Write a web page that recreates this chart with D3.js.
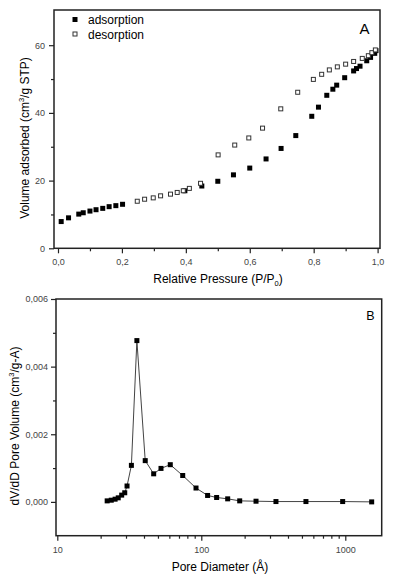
<!DOCTYPE html>
<html>
<head>
<meta charset="utf-8">
<script src="https://cdn.jsdelivr.net/npm/d3@7"></script>
<style>
  body { margin: 0; background: #fff; }
  svg { display: block; font-family: Arial, "Liberation Sans", sans-serif; }
</style>
</head>
<body>
<script>
// panel A: nitrogen isotherm
const adsP = [0.010, 0.033, 0.065, 0.079, 0.100, 0.119, 0.140, 0.160, 0.181, 0.202,
  0.397, 0.450, 0.500, 0.549, 0.600, 0.651, 0.698, 0.744, 0.794, 0.815, 0.841, 0.860,
  0.872, 0.897, 0.925, 0.934, 0.945, 0.966, 0.978, 0.991, 0.995];
const adsV = [7.9, 9.0, 10.1, 10.5, 11.0, 11.4, 11.8, 12.3, 12.6, 13.0,
  17.0, 18.4, 19.8, 21.7, 23.7, 26.4, 29.5, 33.3, 39.0, 41.7, 45.2, 47.0,
  48.2, 50.4, 52.4, 53.1, 53.8, 55.4, 56.4, 57.6, 58.4];
const desP = [0.248, 0.271, 0.298, 0.321, 0.352, 0.373, 0.392, 0.411, 0.446, 0.501,
  0.553, 0.597, 0.640, 0.697, 0.750, 0.799, 0.825, 0.849, 0.874, 0.900, 0.925,
  0.952, 0.971, 0.982, 0.993];
const desV = [13.9, 14.5, 14.9, 15.5, 16.0, 16.5, 17.0, 17.7, 19.2, 27.6,
  30.5, 32.6, 35.5, 41.2, 46.1, 49.9, 51.4, 52.7, 53.6, 54.4, 55.2,
  56.1, 56.9, 57.8, 58.6];
const xTicksA = [0, 0.2, 0.4, 0.6, 0.8, 1.0];
const yTicksA = [0, 20, 40, 60];

// panel B: pore size distribution
const poreD = [22.2, 23.7, 25.2, 26.5, 28.0, 29.4, 30.5, 32.7, 35.7, 40.8, 46.7, 52.5,
  60.9, 74.3, 91.9, 110.6, 127.8, 152.5, 184.8, 239.9, 330, 533, 959, 1525];
const poreV = [0.00003, 0.00005, 0.00008, 0.00012, 0.0002, 0.00027, 0.00047, 0.00108,
  0.00477, 0.00122, 0.00083, 0.00099, 0.0011, 0.00078, 0.00041, 0.00019, 0.00013,
  0.00009, 0.00003, 0.00002, 0.00001, 0.00001, 0.00001, 0.0];
const xTicksB = [10, 100, 1000];
const yTicksB = [0, 0.002, 0.004, 0.006];

const W = 395, H = 575;
const comma = (f) => (d) => d3.format(f)(d).replace(".", ",");

const svg = d3.select("body").append("svg").attr("width", W).attr("height", H);

function frame(g, x0, x1, y0, y1) {
  g.append("rect")
    .attr("x", x0).attr("y", y0)
    .attr("width", x1 - x0).attr("height", y1 - y0)
    .attr("fill", "none").attr("stroke", "#222").attr("stroke-width", 1.5);
}

function styleAxis(sel, size) {
  sel.select(".domain").remove();
  sel.selectAll(".tick line").attr("stroke", "#222").attr("stroke-width", 1.2);
  sel.selectAll("text").attr("fill", "#444").attr("font-size", size);
}

// ---------- panel A ----------
const xA = d3.scaleLinear().domain([-0.0125, 1.0075]).range([54, 380]);
const yA = d3.scaleLinear().domain([0, 70.4]).range([248.3, 10]);
const gA = svg.append("g");

gA.append("g")
  .attr("transform", "translate(0,248.3)")
  .call(d3.axisBottom(xA).tickValues(d3.range(0.1, 1, 0.2)).tickSize(3).tickFormat(""))
  .call((s) => styleAxis(s, 9));
gA.append("g")
  .attr("transform", "translate(0,248.3)")
  .call(d3.axisBottom(xA).tickValues(xTicksA).tickSize(5).tickPadding(5).tickFormat(comma(".1f")))
  .call((s) => styleAxis(s, 9));
gA.append("g")
  .attr("transform", "translate(54,0)")
  .call(d3.axisLeft(yA).tickValues([10, 30, 50]).tickSize(3).tickFormat(""))
  .call((s) => styleAxis(s, 9));
gA.append("g")
  .attr("transform", "translate(54,0)")
  .call(d3.axisLeft(yA).tickValues(yTicksA).tickSize(5).tickPadding(4))
  .call((s) => styleAxis(s, 9));
frame(gA, 54, 380, 10, 248.3);

const adsData = adsP.map((p, i) => ({ p, v: adsV[i] }));
const desData = desP.map((p, i) => ({ p, v: desV[i] }));
const m = 5;

gA.append("g").selectAll("rect").data(adsData).join("rect")
  .attr("x", (d) => xA(d.p) - m / 2).attr("y", (d) => yA(d.v) - m / 2)
  .attr("width", m).attr("height", m).attr("fill", "#000");
gA.append("g").selectAll("rect").data(desData).join("rect")
  .attr("x", (d) => xA(d.p) - (m - 1) / 2).attr("y", (d) => yA(d.v) - (m - 1) / 2)
  .attr("width", m - 1).attr("height", m - 1)
  .attr("fill", "#fff").attr("stroke", "#333").attr("stroke-width", 1);

// legend
gA.append("rect").attr("x", 72.5).attr("y", 17).attr("width", 5).attr("height", 5).attr("fill", "#000");
gA.append("rect").attr("x", 73).attr("y", 32).attr("width", 4).attr("height", 4)
  .attr("fill", "#fff").attr("stroke", "#333");
gA.append("text").attr("x", 88).attr("y", 23.5).attr("font-size", 12).text("adsorption");
gA.append("text").attr("x", 88).attr("y", 38.5).attr("font-size", 12).text("desorption");
gA.append("text").attr("x", 364.5).attr("y", 33.5).attr("font-size", 15)
  .attr("text-anchor", "middle").text("A");

// axis titles
const xtA = gA.append("text").attr("x", 218).attr("y", 283).attr("font-size", 12)
  .attr("text-anchor", "middle");
xtA.append("tspan").text("Relative Pressure (P/P");
xtA.append("tspan").attr("font-size", 7.5).attr("dy", 3).text("0");
xtA.append("tspan").attr("dy", -3).text(")");

const ytA = gA.append("text").attr("transform", "translate(29,138) rotate(-90)")
  .attr("font-size", 12).attr("text-anchor", "middle");
ytA.append("tspan").text("Volume adsorbed (cm");
ytA.append("tspan").attr("font-size", 7.5).attr("dy", -5).text("3");
ytA.append("tspan").attr("dy", 5).text("/g STP)");

// ---------- panel B ----------
const xB = d3.scaleLog().domain([10, 1790]).range([57.3, 381.7]);
const yB = d3.scaleLinear().domain([-0.001, 0.006]).range([535.7, 299]);
const gB = svg.append("g");

const minorB = [];
[10, 100, 1000].forEach((b) => d3.range(2, 10).forEach((k) => { if (b * k < 1790) minorB.push(b * k); }));

gB.append("g")
  .attr("transform", "translate(0,535.7)")
  .call(d3.axisBottom(xB).tickValues(minorB).tickSize(3).tickFormat(""))
  .call((s) => styleAxis(s, 9));
gB.append("g")
  .attr("transform", "translate(0,535.7)")
  .call(d3.axisBottom(xB).tickValues(xTicksB).tickSize(5).tickPadding(6).tickFormat(d3.format("d")))
  .call((s) => styleAxis(s, 9));
gB.append("g")
  .attr("transform", "translate(56,0)")
  .call(d3.axisLeft(yB).tickValues([0.001, 0.003, 0.005]).tickSize(3).tickFormat(""))
  .call((s) => styleAxis(s, 9));
gB.append("g")
  .attr("transform", "translate(56,0)")
  .call(d3.axisLeft(yB).tickValues(yTicksB).tickSize(5).tickPadding(3).tickFormat(comma(".3f")))
  .call((s) => styleAxis(s, 9));
frame(gB, 56, 381.7, 299, 535.7);

const poreData = poreD.map((d, i) => ({ d, v: poreV[i] }));
gB.append("path").datum(poreData)
  .attr("fill", "none").attr("stroke", "#444").attr("stroke-width", 1)
  .attr("d", d3.line().x((d) => xB(d.d)).y((d) => yB(d.v)));
gB.append("g").selectAll("rect").data(poreData).join("rect")
  .attr("x", (d) => xB(d.d) - m / 2).attr("y", (d) => yB(d.v) - m / 2)
  .attr("width", m).attr("height", m).attr("fill", "#000");

gB.append("text").attr("x", 370.5).attr("y", 319.5).attr("font-size", 12.5)
  .attr("text-anchor", "middle").text("B");

gB.append("text").attr("x", 220).attr("y", 571).attr("font-size", 12)
  .attr("text-anchor", "middle").text("Pore Diameter (Å)");

const ytB = gB.append("text").attr("transform", "translate(19,426) rotate(-90)")
  .attr("font-size", 12).attr("text-anchor", "middle");
ytB.append("tspan").text("dV/dD Pore Volume (cm");
ytB.append("tspan").attr("font-size", 7.5).attr("dy", -5).text("3");
ytB.append("tspan").attr("dy", 5).text("/g-A)");
</script>
</body>
</html>
